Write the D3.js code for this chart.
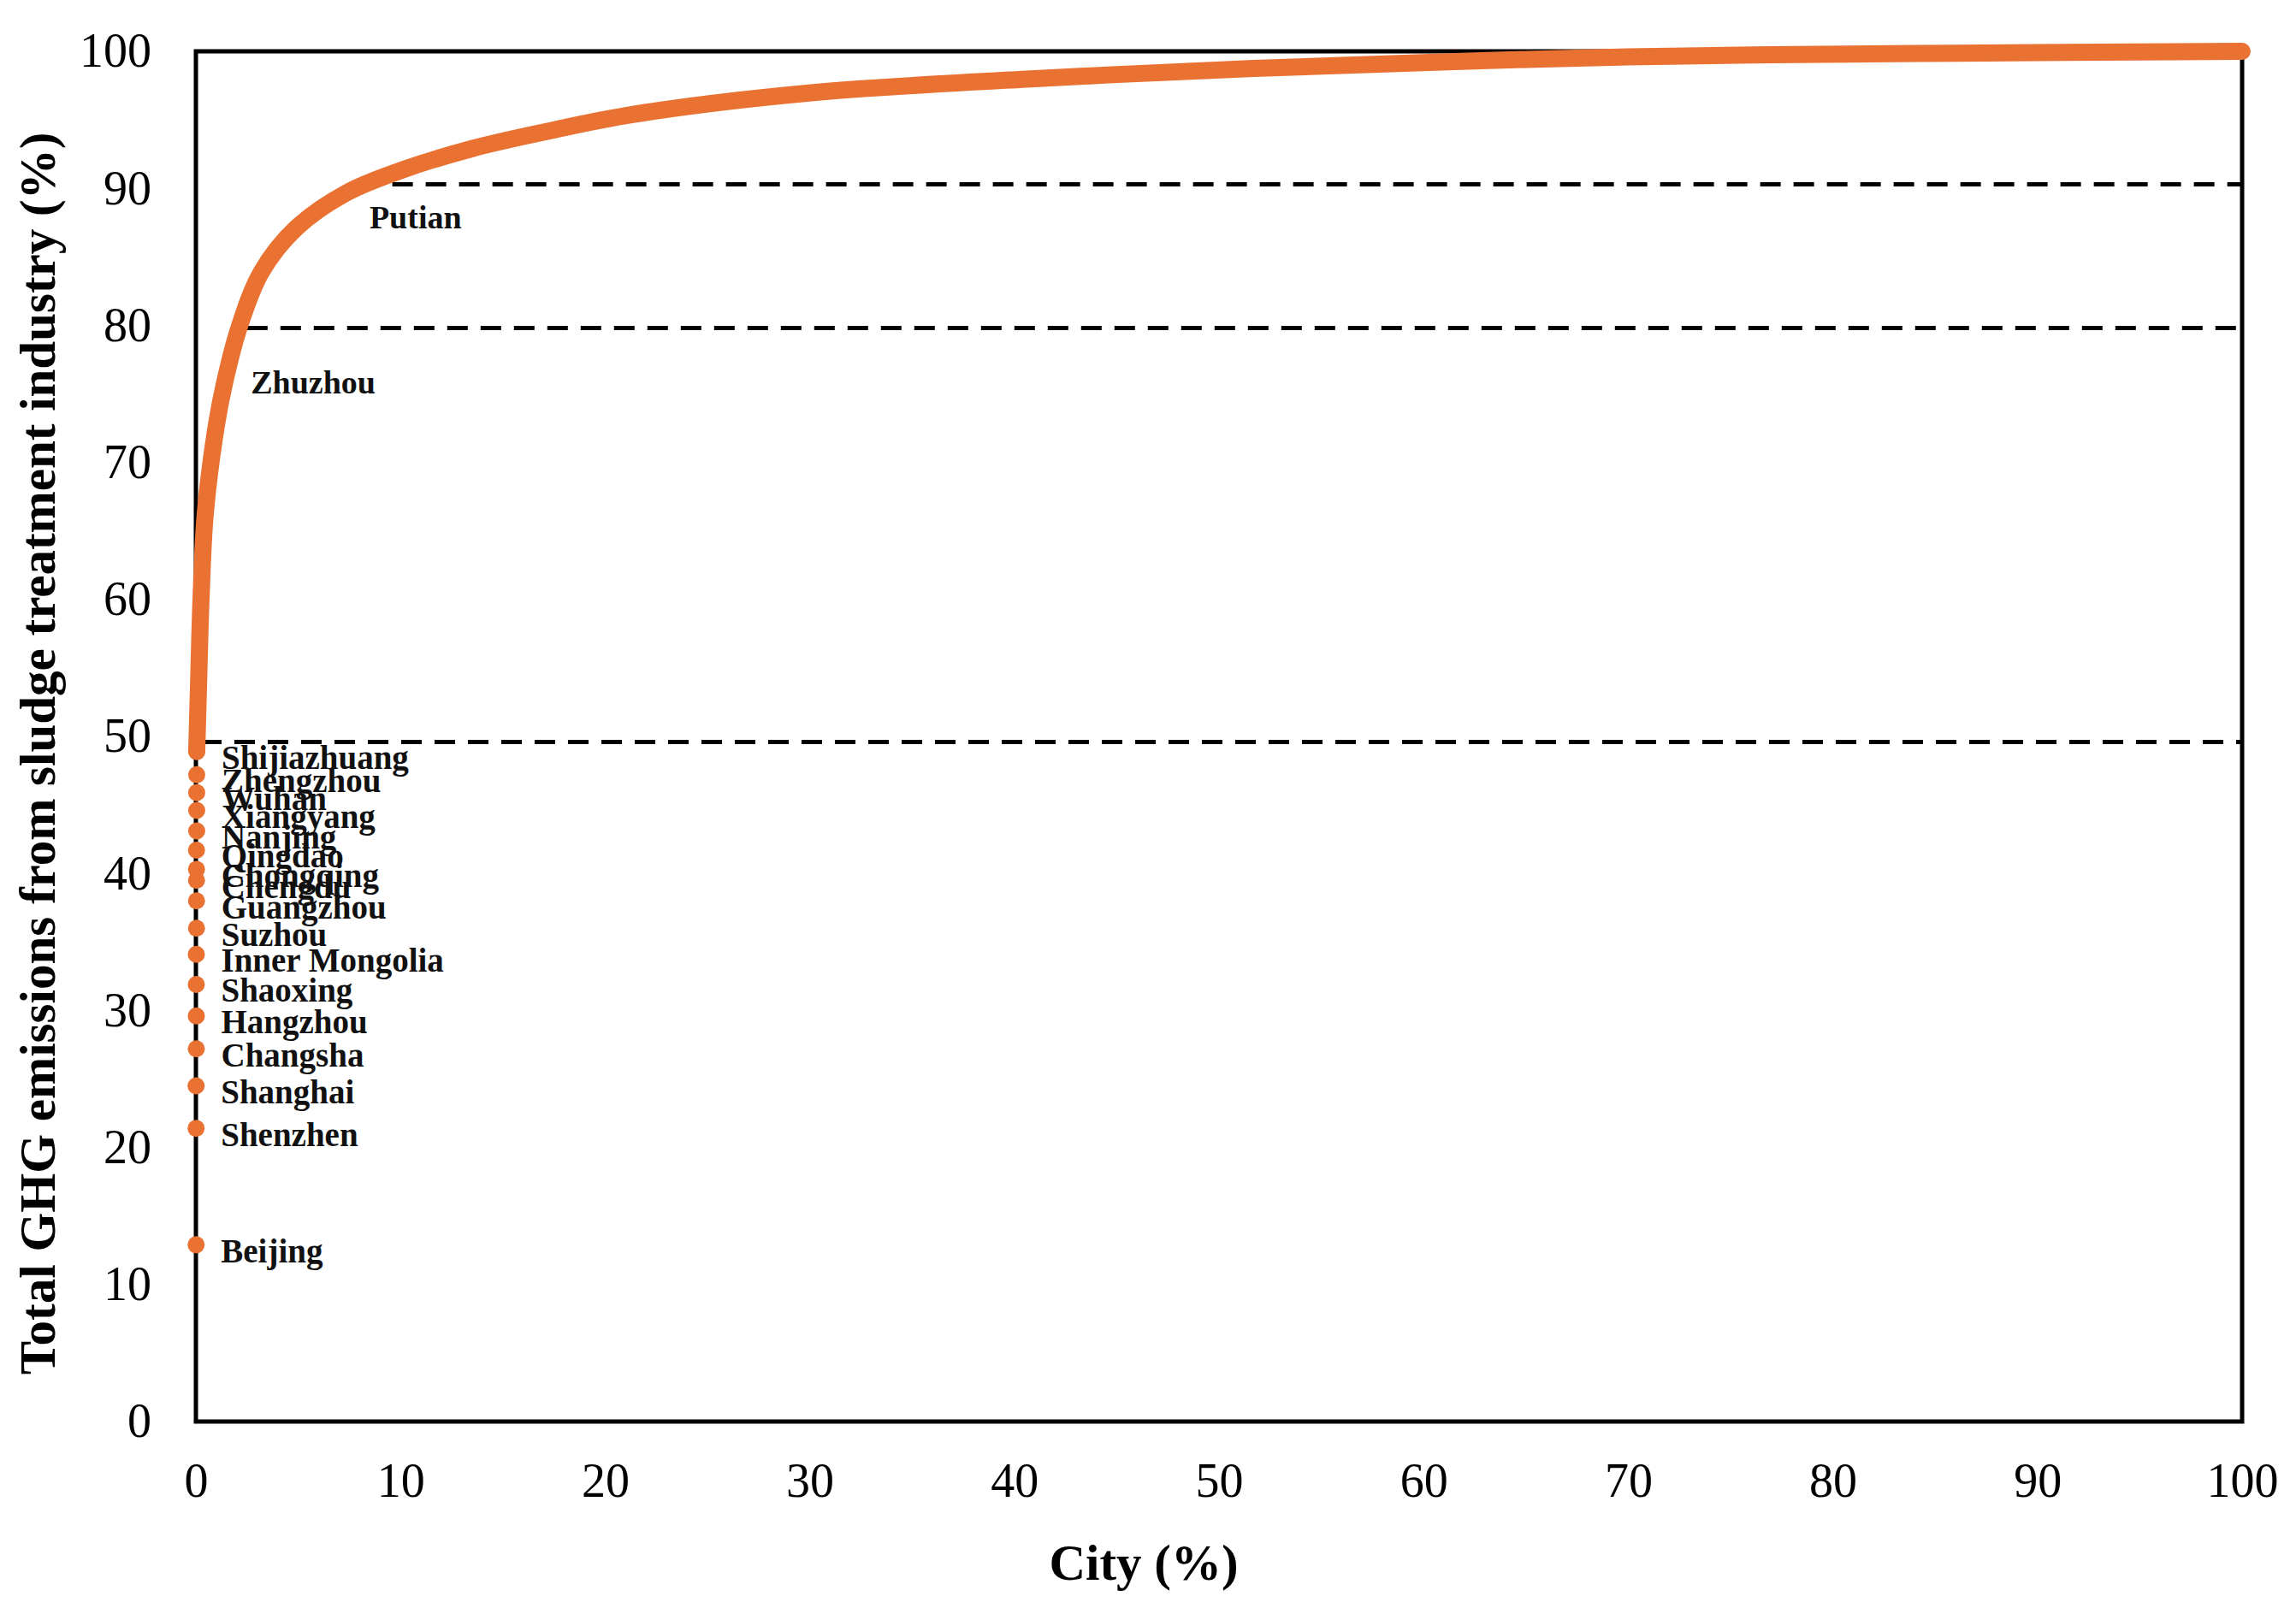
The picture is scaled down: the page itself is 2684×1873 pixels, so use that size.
<!DOCTYPE html>
<html>
<head>
<meta charset="utf-8">
<script src="https://cdn.jsdelivr.net/npm/d3@7"></script>
<style>
  body { margin: 0; background: #fff; }
  text { font-family: "Liberation Serif", "Times New Roman", serif; }
</style>
</head>
<body>
<svg id="chart"></svg>
<script>
// labelled cities at the very start of the cumulative curve
const cities = ["Beijing", "Shenzhen", "Shanghai", "Changsha", "Hangzhou", "Shaoxing",
  "Inner Mongolia", "Suzhou", "Guangzhou", "Chengdu", "Chongqing", "Qingdao",
  "Nanjing", "Xiangyang", "Wuhan", "Zhengzhou", "Shijiazhuang"];
const cityX = [0.01, 0.01, 0.01, 0.02, 0.02, 0.02, 0.02, 0.03, 0.03, 0.03, 0.03,
  0.03, 0.04, 0.04, 0.04, 0.04, 0.04];
const cityShare = [12.9, 21.4, 24.5, 27.2, 29.6, 31.9, 34.1, 36.0, 38.0, 39.5, 40.3,
  41.7, 43.1, 44.6, 45.9, 47.2, 48.9];

// cumulative curve (City %, emissions %)
const curveX = [0.04, 0.13, 0.25, 0.46, 1.0, 1.4, 2.1, 3.2, 4.9, 7.4, 10.2, 13.5,
  17, 21.4, 30.3, 41, 51.7, 61.5, 70, 80.7, 91.3, 100];
const curveY = [48.9, 53.8, 60.0, 66.3, 72.7, 75.8, 79.8, 83.9, 87.1, 89.7, 91.4, 92.9,
  94.1, 95.4, 97.0, 98.0, 98.75, 99.25, 99.6, 99.8, 99.92, 100];

// threshold lines
const thresholdY = [49.6, 79.8, 90.3];
const thresholdStart = [0.25, 2.5, 9.6];

// cities marked at the 80% and 90% thresholds
const markNames = ["Zhuzhou", "Putian"];
const markX = [2.1, 8.9];
const markY = [79.8, 90.2];

const xTicks = [0, 10, 20, 30, 40, 50, 60, 70, 80, 90, 100];
const yTicks = [0, 10, 20, 30, 40, 50, 60, 70, 80, 90, 100];

const W = 2684, H = 1873;
const margin = { top: 60, right: 63, bottom: 211, left: 229 };
const width = W - margin.left - margin.right,
  height = H - margin.top - margin.bottom;
const orange = "#E97132";

const svg = d3.select("#chart").attr("width", W).attr("height", H);
const g = svg.append("g").attr("transform", `translate(${margin.left},${margin.top})`);

const x = d3.scaleLinear().domain([0, 100]).range([0, width]);
const y = d3.scaleLinear().domain([0, 100]).range([height, 0]);

// axes (labels only, frame drawn separately)
const yAxis = g.append("g").call(d3.axisLeft(y).tickValues(yTicks).tickSize(0).tickPadding(52));
const xAxis = g.append("g").attr("transform", `translate(0,${height})`)
  .call(d3.axisBottom(x).tickValues(xTicks).tickSize(0).tickPadding(48));
[xAxis, yAxis].forEach(a => {
  a.select(".domain").remove();
  a.selectAll("text").attr("font-size", 56).attr("fill", "#000")
    .attr("font-family", "Liberation Serif, serif");
});

// frame
g.append("rect").attr("width", width).attr("height", height)
  .attr("fill", "none").attr("stroke", "#000").attr("stroke-width", 5);

// dashed thresholds
g.selectAll(".thr").data(thresholdY).join("line").attr("class", "thr")
  .attr("x1", (d, i) => x(thresholdStart[i])).attr("x2", x(100))
  .attr("y1", d => y(d)).attr("y2", d => y(d))
  .attr("stroke", "#000").attr("stroke-width", 5).attr("stroke-dasharray", "24 15");

// curve
const pts = curveX.map((v, i) => [v, curveY[i]]);
const line = d3.line().x(d => x(d[0])).y(d => y(d[1])).curve(d3.curveCatmullRom.alpha(0.5));
g.append("path").datum(pts).attr("d", line)
  .attr("fill", "none").attr("stroke", orange).attr("stroke-width", 20)
  .attr("stroke-linecap", "round").attr("stroke-linejoin", "round");

// city dots
g.selectAll(".dot").data(cities).join("circle").attr("class", "dot")
  .attr("cx", (d, i) => x(cityX[i])).attr("cy", (d, i) => y(cityShare[i]))
  .attr("r", 10).attr("fill", orange);

// city labels
g.selectAll(".clab").data(cities).join("text").attr("class", "clab")
  .attr("x", (d, i) => x(cityX[i]) + 29).attr("y", (d, i) => y(cityShare[i]) + 7)
  .attr("dominant-baseline", "central")
  .attr("font-size", 39).attr("font-weight", "bold").attr("fill", "#111")
  .text(d => d);

// threshold city labels
const markOffset = [[14, 63], [-10, 37]];
g.selectAll(".mlab").data(markNames).join("text").attr("class", "mlab")
  .attr("x", (d, i) => x(markX[i]) + markOffset[i][0])
  .attr("y", (d, i) => y(markY[i]) + markOffset[i][1])
  .attr("dominant-baseline", "central")
  .attr("font-size", 38).attr("font-weight", "bold").attr("fill", "#111")
  .text(d => d);

// axis titles
svg.append("text").attr("x", 1337).attr("y", 1847).attr("text-anchor", "middle")
  .attr("font-size", 59).attr("font-weight", "bold").text("City (%)");
svg.append("text").attr("transform", "translate(64,881) rotate(-90)")
  .attr("text-anchor", "middle").attr("font-size", 59).attr("font-weight", "bold")
  .text("Total GHG emissions from sludge treatment industry (%)");
</script>
</body>
</html>
